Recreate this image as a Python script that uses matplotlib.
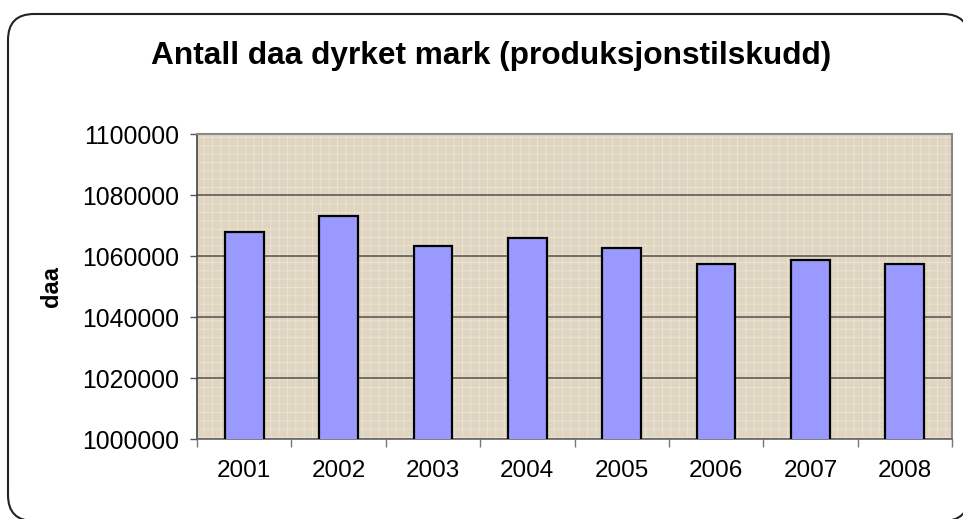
import matplotlib

matplotlib.use('Agg')
import matplotlib.pyplot as plt
from matplotlib.patches import FancyBboxPatch, Rectangle
import numpy as np

plt.rcParams['font.family'] = ['Liberation Sans', 'DejaVu Sans']
plt.rcParams['hatch.linewidth'] = 0.5

years = ['2001', '2002', '2003', '2004', '2005', '2006', '2007', '2008']
daa = [1067900, 1073150, 1063350, 1066050, 1062750, 1057400, 1058750, 1057400]
yticks = [1000000, 1020000, 1040000, 1060000, 1080000, 1100000]

W, H = 963, 519
fig = plt.figure(figsize=(W / 100, H / 100), dpi=100)

# rounded chart frame, corners just cut by the right and bottom edges
frame = FancyBboxPatch((8, -2), 961, H - 14 + 2, boxstyle='round,pad=0,rounding_size=26',
                       transform=None, facecolor='white', edgecolor='#222222',
                       linewidth=1.5, zorder=-5)
fig.patches.append(frame)

ax = fig.add_axes([197 / W, 1 - 439.3 / H, (952 - 197) / W, (439.3 - 134) / H])
ax.set_facecolor('#DFD5C1')
ax.add_patch(Rectangle((0, 0), 1, 1, transform=ax.transAxes, facecolor='none',
                       edgecolor='#EEE7D8', hatch='++', linewidth=0, zorder=0))

x = np.arange(len(years))
ax.bar(x, daa, width=0.41, color='#9999FF', edgecolor='black', linewidth=1.6,
       zorder=3)

ax.set_xlim(-0.5, len(years) - 0.5)
ax.set_ylim(1000000, 1100000)
ax.set_yticks(yticks)
ax.set_yticklabels([str(v) for v in yticks])
ax.set_xticks(x)
ax.set_xticklabels(years)
ax.set_xticks(np.arange(-0.5, len(years)), minor=True)

ax.yaxis.grid(True, color='#5F5A55', linewidth=1.2, zorder=1)
ax.set_axisbelow(True)

ax.tick_params(axis='y', which='major', direction='out', length=5, width=1,
               color='#555555', labelsize=17.8, pad=8)
ax.tick_params(axis='x', which='major', length=0, labelsize=17.5, pad=15)
ax.tick_params(axis='x', which='minor', direction='out', length=6, width=1,
               color='#777777')

for side in ['top', 'right']:
    ax.spines[side].set_color('#888888')
    ax.spines[side].set_linewidth(1.5)
ax.spines['left'].set_color('#444444')
ax.spines['bottom'].set_color('#666666')
ax.spines['left'].set_linewidth(1.2)
ax.spines['bottom'].set_linewidth(1.2)

ax.set_ylabel('daa', fontsize=17, fontweight='bold', labelpad=14)
fig.text(491 / W, 1 - 56 / H, 'Antall daa dyrket mark (produksjonstilskudd)',
         ha='center', va='center', fontsize=22.8, fontweight='bold')

fig.savefig('out.png', dpi=100)
